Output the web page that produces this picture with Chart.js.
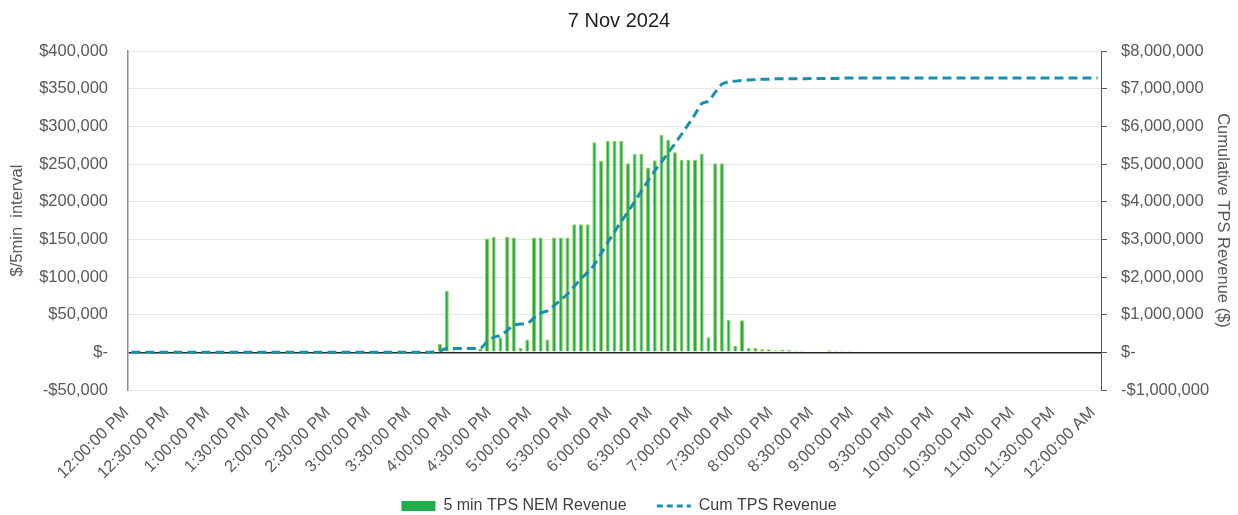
<!DOCTYPE html>
<html>
<head>
<meta charset="utf-8">
<title>7 Nov 2024</title>
<script src="https://cdn.jsdelivr.net/npm/chart.js@4/dist/chart.umd.min.js"></script>
<style>
  html, body { margin: 0; padding: 0; background: #fff; }
  #wrap { width: 1238px; height: 515px; position: relative; }
</style>
</head>
<body>
<div id="wrap"><canvas id="revChart"></canvas></div>
<script>
// ---------------------------------------------------------------
// DATA (5-minute intervals 12:00 PM -> 12:00 AM)
// ---------------------------------------------------------------

const chartTitle = '7 Nov 2024';
const barLabel = '5 min TPS NEM Revenue';
const lineLabel = 'Cum TPS Revenue';

// 145 interval start times, 12:00:00 PM to 12:00:00 AM
const startMinute = 12 * 60;
const stepMinutes = 5;
const intervalCount = 145;

// $ per 5-min interval
const intervalRevenue = [
  0, 0, 0, 0, 0, 0, 0, 0, 0, 0, 0, 0,                       // 12:00 - 12:55
  0, 0, 0, 0, 0, 0, 0, 0, 0, 0, 0, 0,                       // 1:00 - 1:55
  0, 0, 0, 0, 0, 0, 0, 0, 0, 0, 0, 0,                       // 2:00 - 2:55
  0, 0, 0, 0, 0, 0, 0, 0, 0, 0, 11500, 81500,               // 3:00 - 3:55
  2600, 1300, 1300, 1000, 5000, 151000, 153000, 20000, 153000, 152500, 5700, 17000,          // 4:00 - 4:55
  152500, 152500, 17000, 152500, 152500, 152500, 170000, 170000, 170000, 279000, 254000, 281000, // 5:00 - 5:55
  281000, 281000, 251000, 263500, 263500, 245500, 255000, 288500, 282000, 265500, 255700, 255700, // 6:00 - 6:55
  255700, 264000, 20000, 251000, 251000, 43400, 8900, 42500, 5800, 5800, 4000, 4000,          // 7:00 - 7:55
  2700, 3000, 3000, 2200, 2200, 1500, 1500, 1500, 2700, 2200, 2200, 1800,                     // 8:00 - 8:55
  1500, 0, 0, 0, 0, 0, 0, 0, 0, 0, 0, 0,                    // 9:00 - 9:55
  0, 0, 0, 0, 0, 0, 0, 0, 0, 0, 0, 0,                       // 10:00 - 10:55
  0, 0, 0, 0, 0, 0, 0, 0, 0, 0, 0, 0,                       // 11:00 - 11:55
  0                                                         // 12:00 AM
];

// cumulative $ (right axis)
const cumulativeRevenue = [
  0, 0, 0, 0, 0, 0, 0, 0, 0, 0, 0, 0,
  0, 0, 0, 0, 0, 0, 0, 0, 0, 0, 0, 0,
  0, 0, 0, 0, 0, 0, 0, 0, 0, 0, 0, 0,
  0, 0, 0, 0, 0, 0, 0, 0, 0, 10000, 40000, 100000,
  100000, 100000, 100000, 100000, 110000, 280000, 400000, 450000, 580000, 720000, 750000, 770000,
  910000, 1040000, 1100000, 1240000, 1390000, 1550000, 1750000, 1950000, 2130000, 2330000, 2620000, 2920000,
  3200000, 3470000, 3730000, 4000000, 4280000, 4550000, 4820000, 5050000, 5300000, 5540000, 5790000, 6050000,
  6320000, 6600000, 6670000, 6900000, 7120000, 7180000, 7200000, 7220000, 7230000, 7240000, 7250000, 7250000,
  7260000, 7260000, 7260000, 7260000, 7260000, 7270000, 7270000, 7270000, 7270000, 7270000, 7280000, 7280000,
  7280000, 7280000, 7280000, 7280000, 7280000, 7280000, 7280000, 7280000, 7280000, 7280000, 7280000, 7280000,
  7280000, 7280000, 7280000, 7280000, 7280000, 7280000, 7280000, 7280000, 7280000, 7280000, 7280000, 7280000,
  7280000, 7280000, 7280000, 7280000, 7280000, 7280000, 7280000, 7280000, 7280000, 7280000, 7280000, 7280000,
  7280000
];

const leftAxisMin = -50000;
const leftAxisMax = 400000;
const leftAxisStep = 50000;
const rightAxisMin = -1000000;
const rightAxisMax = 8000000;
const rightAxisStep = 1000000;
const labelEvery = 6; // one label per 30 minutes

// ---------------------------------------------------------------
// HELPERS
// ---------------------------------------------------------------

function timeLabel(minutes) {
  const m = minutes % (24 * 60);
  const h24 = Math.floor(m / 60);
  const mm = m % 60;
  const suffix = h24 >= 12 ? 'PM' : 'AM';
  const h12 = h24 % 12 === 0 ? 12 : h24 % 12;
  return `${h12}:${String(mm).padStart(2, '0')}:00 ${suffix}`;
}

const categories = [];
for (let i = 0; i < intervalCount; i++) categories.push(timeLabel(startMinute + i * stepMinutes));

function dollars(v) {
  if (v === 0) return '$-';
  const s = '$' + Math.abs(v).toLocaleString('en-US');
  return v < 0 ? '-' + s : s;
}

// ---------------------------------------------------------------
// CHART
// ---------------------------------------------------------------

const FONT = "'Liberation Sans', Arial, sans-serif";
const TEXT_GREY = '#595959';
const BAR_FILL = '#1fae4b';
const BAR_EDGE = '#92d050';
const LINE_COLOR = '#1a8fad';

Chart.defaults.font.family = FONT;
Chart.defaults.color = TEXT_GREY;

new Chart(document.getElementById('revChart').getContext('2d'), {
  data: {
    labels: categories,
    datasets: [
      {
        type: 'bar',
        label: barLabel,
        data: intervalRevenue,
        yAxisID: 'y',
        backgroundColor: BAR_FILL,
        borderColor: BAR_EDGE,
        borderWidth: 1,
        barPercentage: 0.6,
        categoryPercentage: 1.0,
        order: 2
      },
      {
        type: 'line',
        label: lineLabel,
        data: cumulativeRevenue,
        yAxisID: 'y1',
        borderColor: LINE_COLOR,
        borderWidth: 3,
        borderDash: [9, 5],
        pointRadius: 0,
        cubicInterpolationMode: 'monotone',
        fill: false,
        order: 1
      }
    ]
  },
  options: {
    responsive: true,
    maintainAspectRatio: false,
    animation: false,
    layout: { padding: { left: 0, right: 0, top: 0, bottom: -9 } },
    plugins: {
      title: {
        display: true,
        text: chartTitle,
        color: '#1f1f1f',
        font: { size: 20, weight: 'normal', family: FONT },
        padding: { top: 9, bottom: 18 }
      },
      legend: {
        position: 'bottom',
        labels: {
          usePointStyle: true,
          pointStyleWidth: 34,
          boxHeight: 10,
          padding: 8,
          color: '#404040',
          font: { size: 16, family: FONT },
          // trailing spaces widen the gap between the two legend entries
          generateLabels: (chart) => chart.data.datasets.map((ds, i) => {
            const isLine = ds.type === 'line';
            return {
              text: isLine ? ds.label : ds.label + '     ',
              datasetIndex: i,
              fillStyle: isLine ? 'rgba(0,0,0,0)' : BAR_FILL,
              strokeStyle: isLine ? LINE_COLOR : BAR_FILL,
              lineWidth: isLine ? 3 : 0,
              lineDash: isLine ? [6, 4] : [],
              pointStyle: isLine ? 'line' : 'rect',
              fontColor: '#404040',
              hidden: false
            };
          })
        }
      },
      tooltip: { enabled: false }
    },
    scales: {
      x: {
        type: 'category',
        offset: true,
        grid: { display: false },
        border: { display: false },
        ticks: {
          autoSkip: false,
          minRotation: 45,
          maxRotation: 45,
          padding: 5,
          labelOffset: -5,
          color: TEXT_GREY,
          font: { size: 16.5 },
          callback: (value, index) => (index % labelEvery === 0 ? categories[index] : null)
        },
        afterFit: (scale) => { scale.height = 100; }
      },
      y: {
        position: 'left',
        min: leftAxisMin,
        max: leftAxisMax,
        ticks: {
          stepSize: leftAxisStep,
          padding: 20,
          color: TEXT_GREY,
          font: { size: 16.5 },
          callback: (v) => dollars(v)
        },
        grid: {
          drawTicks: false,
          color: (ctx) => (ctx.tick && ctx.tick.value === 0 ? '#262626' : '#e6e6e6'),
          lineWidth: (ctx) => (ctx.tick && ctx.tick.value === 0 ? 1.5 : 1)
        },
        border: { color: '#8c8c8c', width: 1.5 },
        title: {
          display: true,
          text: '$/5min  interval',
          color: TEXT_GREY,
          font: { size: 16.5 },
          padding: { top: 8, bottom: 0 }
        },
        afterFit: (scale) => { scale.width = 128; }
      },
      y1: {
        position: 'right',
        min: rightAxisMin,
        max: rightAxisMax,
        ticks: {
          stepSize: rightAxisStep,
          padding: 14,
          color: TEXT_GREY,
          font: { size: 16.5 },
          callback: (v) => dollars(v)
        },
        grid: {
          drawOnChartArea: false,
          drawTicks: true,
          tickLength: 6,
          color: '#595959'
        },
        border: { color: '#595959', width: 1 },
        title: {
          display: true,
          text: 'Cumulative TPS Revenue ($)',
          color: TEXT_GREY,
          font: { size: 16.5 },
          padding: { top: 6, bottom: 0 }
        },
        afterFit: (scale) => { scale.width = 137; }
      }
    }
  }
});
</script>
</body>
</html>
